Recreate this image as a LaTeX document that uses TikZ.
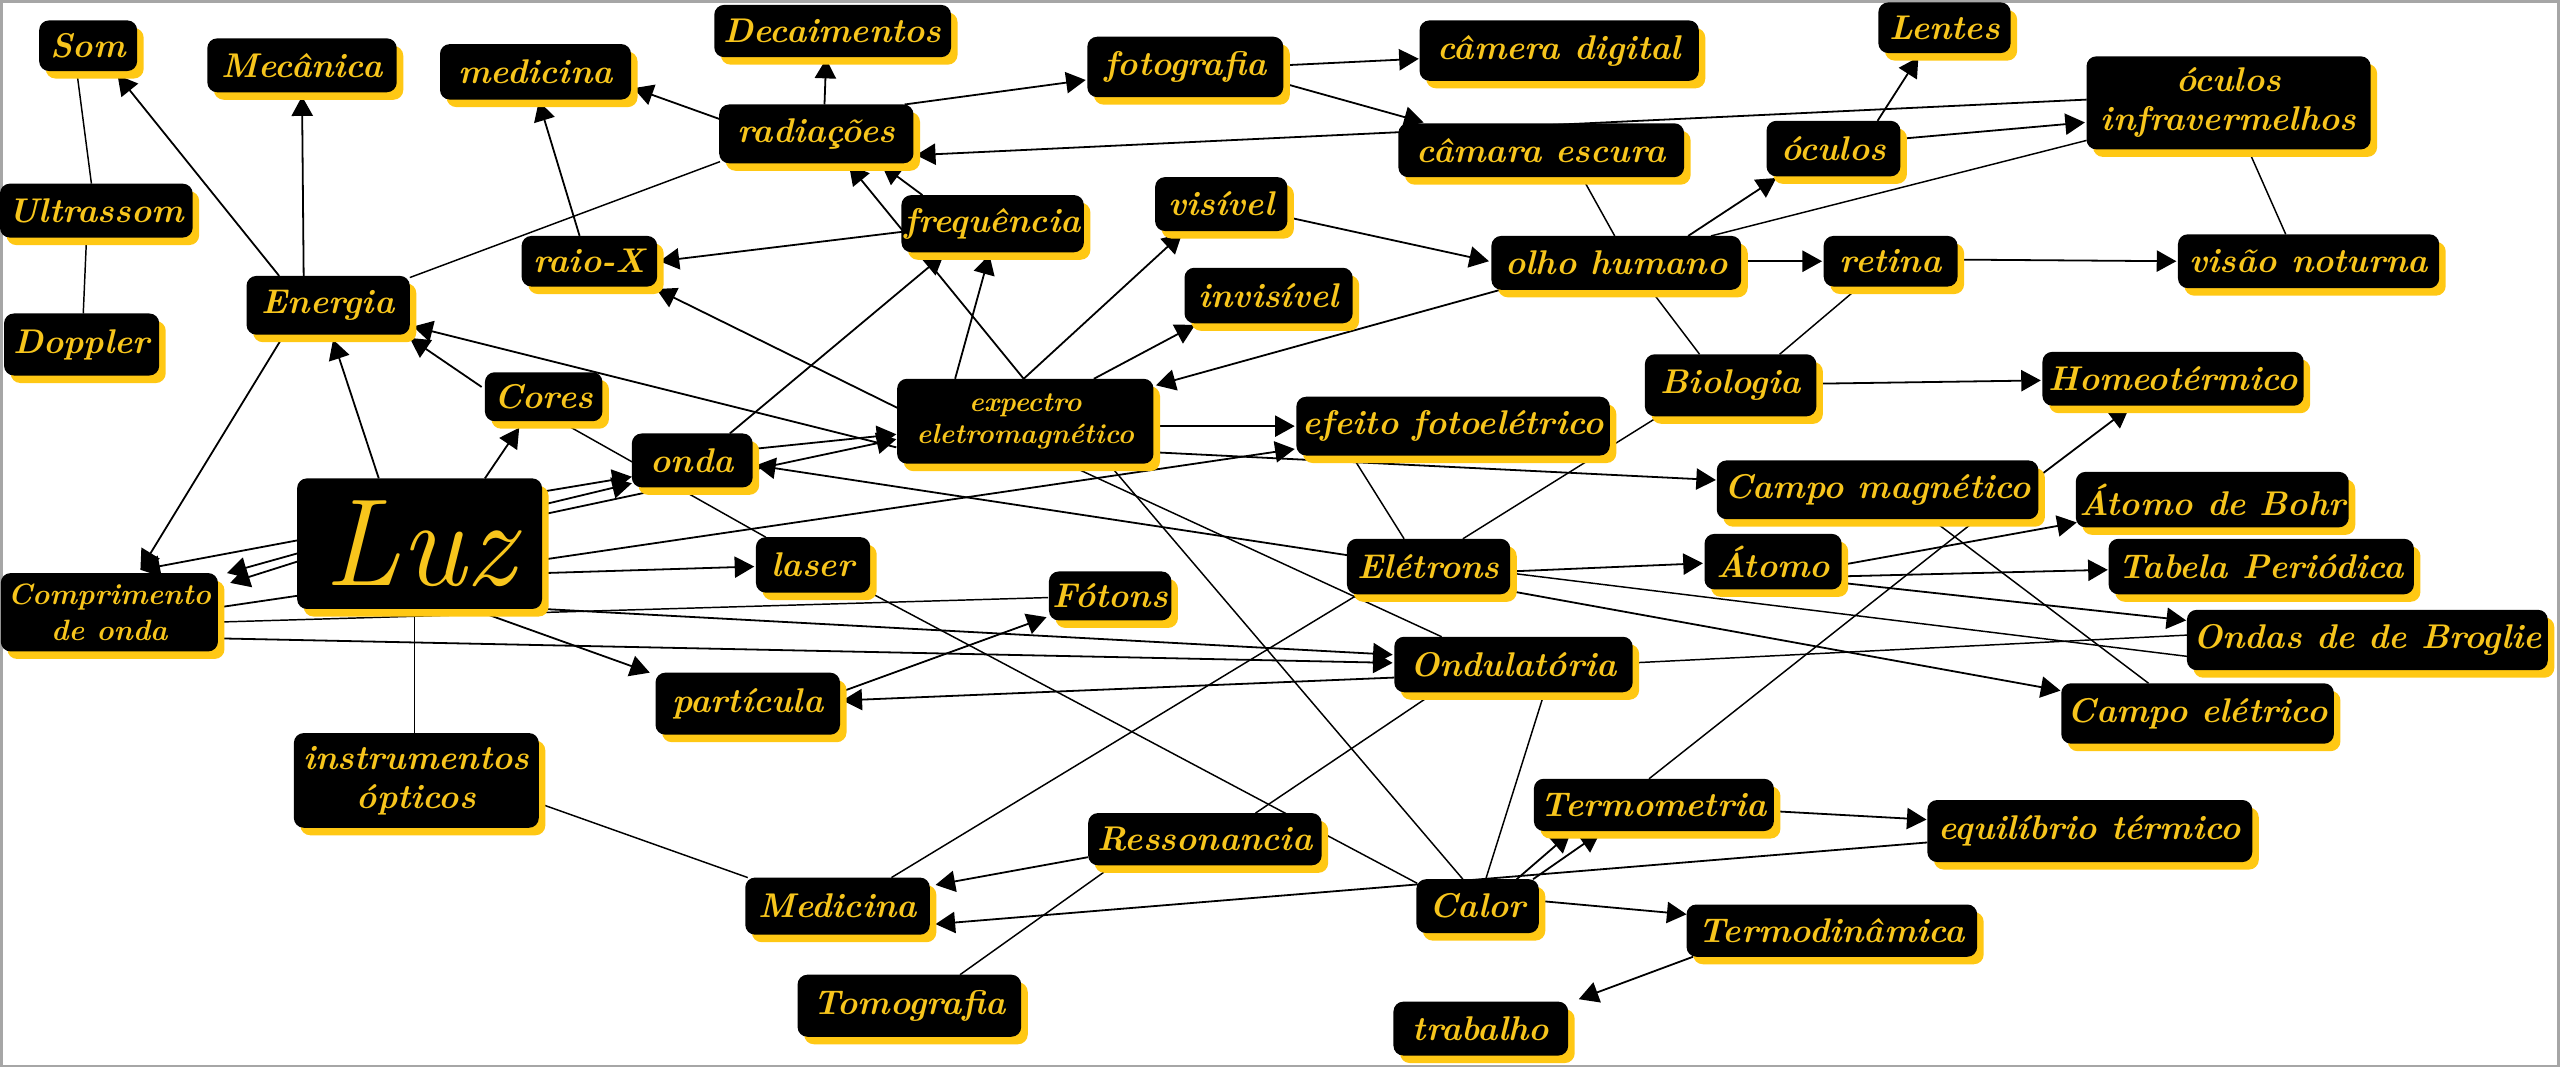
\documentclass[tikz,border=0pt]{standalone}
\usepackage{fontspec}
\usetikzlibrary{arrows.meta,shadows,calc}
\definecolor{ylw}{RGB}{247,197,28}
\definecolor{shy}{RGB}{255,200,20}
\pgfdeclarelayer{bgl}
\pgfdeclarelayer{edges}
\pgfsetlayers{bgl,edges,main}
\tikzset{
  cbox/.style={rectangle, rounded corners=3pt, fill=black, text=ylw, align=center,
    inner sep=1pt, font=\bfseries\itshape\fontsize{10.5}{12}\selectfont,
    drop shadow={shadow xshift=2pt, shadow yshift=-2.3pt, fill=shy, opacity=1}},
  arr/.style={draw=black, line width=0.55pt, -{Triangle[length=6pt,width=6.5pt]}},
  ln/.style={draw=black, line width=0.45pt}
}
\newcommand\cn[7][]{\node[cbox,#1,minimum width=#6*0.5pt,minimum height=#7*0.5pt] (#2) at (#3,#4) {#5};}
\newcommand\edgeA[4]{\draw[arr] ($(#1)+(#2)$) -- ($(#3)+(#4)$);}
\newcommand\edgeL[4]{\draw[ln] ($(#1)+(#2)$) -- ($(#3)+(#4)$);}
\begin{document}
\begin{tikzpicture}[x=0.5pt,y=-0.5pt]
\useasboundingbox (0,0) rectangle (1568,654);
\begin{pgfonlayer}{bgl}
\fill[white] (0,0) rectangle (1568,654);
\draw[gray!70,line width=0.8pt] (1,1) rectangle (1567,653);
\end{pgfonlayer}
% nodes
\cn{Som}{54}{28}{Som}{60}{31}
\cn{Mec}{185}{40}{Mecânica}{116}{33}
\cn{medi}{328}{44}{medicina}{117}{34}
\cn{Deca}{510}{19}{Decaimentos}{145}{32}
\cn{radi}{500}{82}{radiações}{119}{36}
\cn{foto}{726}{41}{fotografia}{120}{37}
\cn{camd}{955}{31}{câmera digital}{171}{37}
\cn{came}{944}{92}{câmara escura}{175}{33}
\cn{Lent}{1191}{17}{Lentes}{81}{31}
\cn{ocul}{1123}{91}{óculos}{82}{34}
\cn{infr}{1365}{63}{óculos\\infravermelhos}{174}{57}
\cn{Ultr}{59}{129}{Ultrassom}{118}{33}
\cn{Dopp}{50}{211}{Doppler}{95}{38}
\cn{Ener}{201}{187}{Energia}{100}{36}
\cn{raio}{361}{160}{raio-X}{83}{31}
\cn{freq}{608}{137}{frequência}{111}{35}
\cn{visi}{748}{125}{visível}{81}{33}
\cn{invi}{777}{181}{invisível}{103}{34}
\cn{olho}{990}{161}{olho humano}{153}{33}
\cn{reti}{1158}{160}{retina}{82}{31}
\cn{visa}{1414}{160}{visão noturna}{160}{33}
\cn{Biol}{1060}{236}{Biologia}{105}{38}
\cn{Home}{1331}{232}{Homeotérmico}{160}{33}
\cn{Core}{333}{243}{Cores}{72}{30}
\cn[font=\bfseries\itshape\fontsize{8.5}{10}\selectfont]{expe}{628}{258}{expectro\\eletromagnético}{157}{52}
\cn{efei}{890}{261}{efeito fotoelétrico}{192}{36}
\cn{onda}{424}{282}{onda}{74}{33}
\cn[font=\itshape\fontsize{38}{38}\selectfont]{Luz}{257}{333}{Luz}{150}{80}
\cn[font=\bfseries\itshape\fontsize{9}{11}\selectfont]{Comp}{67}{375}{Comprimento\\de onda}{133}{48}
\cn{lase}{498}{346}{laser}{70}{34}
\cn{Foto}{680}{365}{Fótons}{75}{30}
\cn{part}{458}{431}{partícula}{113}{38}
\cn{Elet}{875}{347}{Elétrons}{100}{34}
\cn{Ondu}{927}{407}{Ondulatória}{146}{34}
\cn{CMag}{1150}{300}{Campo magnético}{197}{36}
\cn{Bohr}{1355}{306}{Átomo de Bohr}{164}{34}
\cn{Atom}{1086}{344}{Átomo}{84}{34}
\cn{Tabe}{1385}{347}{Tabela Periódica}{187}{34}
\cn{Brog}{1450}{392}{Ondas de de Broglie}{221}{37}
\cn{CEle}{1346}{437}{Campo elétrico}{167}{37}
\cn{inst}{255}{478}{instrumentos\\ópticos}{150}{58}
\cn{Medi}{513}{555}{Medicina}{113}{35}
\cn{Ress}{738}{514}{Ressonancia}{143}{32}
\cn{Tomo}{557}{616}{Tomografia}{137}{38}
\cn{Calo}{905}{555}{Calor}{75}{33}
\cn{Term}{1013}{493}{Termometria}{147}{32}
\cn{Equi}{1280}{509}{equilíbrio térmico}{199}{38}
\cn{Tdin}{1122}{570}{Termodinâmica}{178}{32}
\cn{trab}{907}{630}{trabalho}{107}{33}
% edges
\begin{pgfonlayer}{edges}
\edgeL{Som}{-7,15.5}{Ultr}{-3,-16.5}
\edgeL{Ultr}{-6,16.5}{Dopp}{1,-19}
\edgeA{Ener}{-30,-18}{Som}{18,18}
\edgeA{Ener}{-15,-18}{Mec}{0,19}
\edgeA{Ener}{-27,18}{Comp}{19,-26}
\edgeA{Luz}{-25,-40}{Ener}{3,21}
\edgeA{Core}{-38,-6}{Ener}{50,20}
\edgeA{Luz}{40,-40}{Core}{-15,19}
\edgeA{Luz}{-75,-2}{Comp}{19,-26}
\edgeA{Luz}{-75,6}{Comp}{72,-24}
\edgeA{Luz}{-75,11}{Comp}{74,-18}
\edgeA{Comp}{67,-3}{efei}{-97,14}
\edgeL{Comp}{67,6}{Foto}{-38,1}
\edgeA{Comp}{67,16}{Ondu}{-74,-1}
\edgeA{Luz}{76,40}{Ondu}{-74,-6}
\edgeA{Luz}{35,41}{part}{-60,-19}
\edgeA{Luz}{76,18}{lase}{-36,1}
\edgeA{Luz}{76,-32}{onda}{-37,10}
\edgeA{Luz}{76,-24}{onda}{-37,14}
\edgeA{Luz}{76,-18}{expe}{-79,11}
\edgeA{onda}{37,-7}{expe}{-79,8}
\edgeL{Core}{10,15}{lase}{-29,-17}
\edgeL{Ener}{50,-17}{radi}{-59,17}
\edgeA{raio}{-6,-15.5}{medi}{2,18}
\edgeA{radi}{-59,-9}{medi}{60,10}
\edgeA{radi}{5,-18}{Deca}{-4,17}
\edgeA{radi}{54,-18}{foto}{-61,8}
\edgeA{foto}{60,-1}{camd}{-86,5}
\edgeA{foto}{60,10}{came}{-72,-17}
\edgeA{infr}{-87,-2}{radi}{61,13}
\edgeA{freq}{-43,-17.5}{radi}{40,19}
\edgeA{expe}{-1,-26}{radi}{20,19}
\edgeA{freq}{-55.5,5}{raio}{43,0}
\edgeA{expe}{-78,-8}{raio}{41,17}
\edgeA{onda}{23,-16.5}{freq}{-30,19}
\edgeA{expe}{-43,-26}{freq}{-2,19}
\edgeA{expe}{-1,-26}{visi}{-24,18}
\edgeA{expe}{42,-26}{invi}{-45,18}
\edgeA{visi}{40.5,8}{olho}{-78,-1}
\edgeA{olho}{-71,16.5}{expe}{80,-22}
\edgeL{came}{25,16.5}{olho}{-1,-16.5}
\edgeA{olho}{44,-16.5}{ocul}{-35,18}
\edgeL{olho}{58,-16.5}{infr}{-87,23}
\edgeA{ocul}{27,-17}{Lent}{-16,18}
\edgeA{ocul}{41,-6}{infr}{-88,12}
\edgeL{infr}{12,28.5}{visa}{-14,-16.5}
\edgeA{olho}{76.5,-1}{reti}{-42,0}
\edgeA{reti}{41,-1}{visa}{-81,0}
\edgeL{olho}{21,16.5}{Biol}{-19,-19}
\edgeL{reti}{-19,15.5}{Biol}{30,-19}
\edgeA{Biol}{52.5,-1}{Home}{-81,1}
\edgeL{Biol}{-44,19}{Elet}{21,-17}
\edgeA{CMag}{98.5,-8}{Home}{-27,18}
\edgeL{CMag}{33,18}{CEle}{-30,-18.5}
\edgeL{CMag}{61,18}{Term}{-3,-16}
\edgeA{expe}{78.5,19}{CMag}{-99,-6}
\edgeA{expe}{78.5,3}{efei}{-97,0}
\edgeL{efei}{-62,18}{Elet}{-15,-17}
\edgeA{Elet}{50,3}{Atom}{-43,1}
\edgeA{Atom}{42,2}{Bohr}{-83,14}
\edgeA{Atom}{42,9}{Tabe}{-94,2}
\edgeA{Atom}{42,13}{Brog}{-111,-12}
\edgeL{Elet}{50,4}{Brog}{-110.5,10}
\edgeA{Elet}{50,15}{CEle}{-84,-14}
\edgeL{Brog}{-110.5,-3}{Ondu}{73,-1}
\edgeA{Ondu}{-73,8}{part}{58,-2}
\edgeA{part}{56.5,-7}{Foto}{-39,13}
\edgeL{expe}{25,26}{Ondu}{-44,-17}
\edgeL{expe}{51,26}{Calo}{-9,-16.5}
\edgeL{Elet}{-43,17}{Medi}{33,-17.5}
\edgeL{Ondu}{-48,17}{Ress}{31,-16}
\edgeL{Ondu}{19,17}{Calo}{5,-16.5}
\edgeL{lase}{35,17}{Calo}{-37,-14}
\edgeA{Ress}{-71.5,11}{Medi}{60,-13}
\edgeA{Equi}{-99.5,7}{Medi}{60,11}
\edgeL{Ress}{-56,16}{Tomo}{31,-19}
\edgeL{inst}{75,14}{Medi}{-55,-17.5}
\edgeL{Luz}{-3,40}{inst}{-1,-29}
\edgeA{Calo}{24,-16.5}{Term}{-51,17}
\edgeA{Calo}{34,-16.5}{Term}{-33,17}
\edgeA{Term}{76,4}{Equi}{-100,-7}
\edgeA{Calo}{40,-3}{Tdin}{-89,-10}
\edgeA{Tdin}{-85,16}{trab}{60,-18}
\edgeA{expe}{-79,16}{Ener}{52,13}
\edgeA{Elet}{-50,-7}{onda}{39,3}
\end{pgfonlayer}
\end{tikzpicture}
\end{document}
